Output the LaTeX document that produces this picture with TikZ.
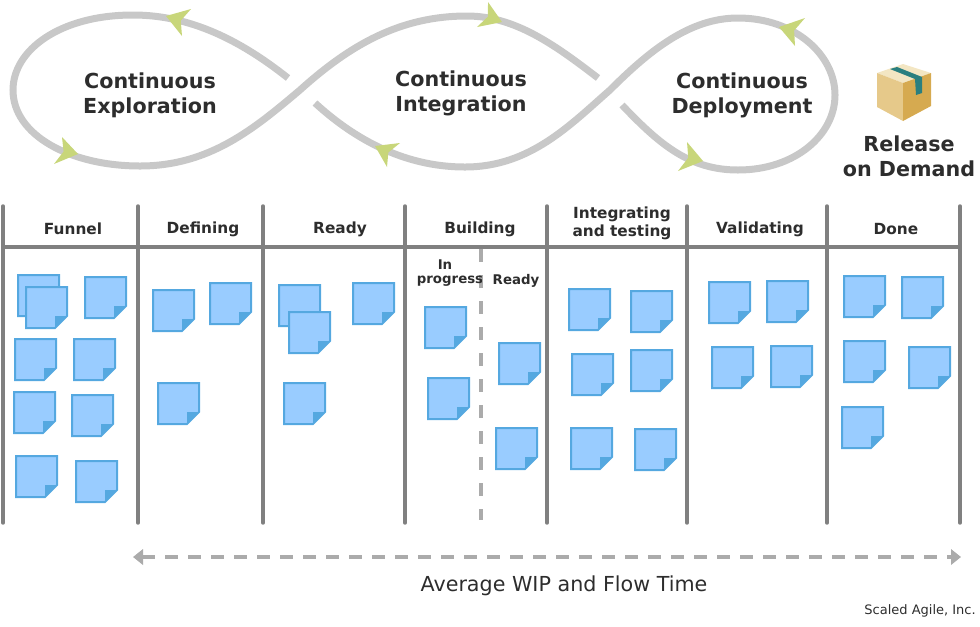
\documentclass[tikz,border=0pt]{standalone}
\usepackage{fontspec}
\setmainfont{DejaVu Sans}
\usetikzlibrary{arrows.meta,calc}

\definecolor{inktext}{HTML}{2D2D2D}
\definecolor{loopgray}{HTML}{C8C8C8}
\definecolor{tipgreen}{HTML}{C8D67A}
\definecolor{boardgray}{HTML}{808080}
\definecolor{dashgray}{HTML}{ABABAB}
\definecolor{notefill}{HTML}{99CCFF}
\definecolor{noteedge}{HTML}{55A8E0}
\definecolor{boxtop}{HTML}{F3E6C3}
\definecolor{boxleft}{HTML}{E6C98A}
\definecolor{boxright}{HTML}{D6AA50}
\definecolor{boxtape}{HTML}{2A7F7F}

\begin{document}
\begin{tikzpicture}[
    x=0.75pt, y=-0.75pt,
    >=Stealth,
    every node/.style={text=inktext, inner sep=0pt, align=center},
    looplabel/.style={font=\fontsize{15.5}{18.75}\selectfont\bfseries},
    colhead/.style={font=\fontsize{11.5}{13.5}\selectfont\bfseries},
    subhead/.style={font=\fontsize{10}{12.75}\selectfont\bfseries},
    loopline/.style={draw=loopgray, line width=5.25pt},
    divider/.style={draw=boardgray, line width=2.6pt, line cap=round},
    note/.pic={
      \draw[fill=notefill, draw=noteedge, line width=1.5pt, line join=miter]
        (1,1) -- (42,1) -- (42,30) -- (30,42) -- (1,42) -- cycle;
      \fill[noteedge] (30,42) -- (30,30) -- (42,30) -- cycle;
    },
]
  \useasboundingbox (0,0) rectangle (980,626);

  % figure-eight loops
  \draw[loopline] (288,78) .. controls (240,40) and (190,15) .. (133,15)
    .. controls (60,15) and (13,50) .. (13,90)
    .. controls (13,135) and (70,166) .. (140,166)
    .. controls (210,166) and (255,128) .. (300,90)
    .. controls (350,45) and (400,16) .. (467,16)
    .. controls (515,16) and (555,45) .. (598,78);
  \draw[loopline] (315,103) .. controls (350,135) and (400,167) .. (465,167)
    .. controls (530,167) and (570,125) .. (610,90)
    .. controls (650,50) and (690,18) .. (738,18)
    .. controls (795,18) and (835,55) .. (835,95)
    .. controls (835,135) and (795,170) .. (738,170)
    .. controls (690,170) and (660,145) .. (622,105);

  % green tips: point / barb / barb
  \foreach \tx/\ty/\ax/\ay/\bx/\by in {166/16/191/9/182/36, 78/154/62/137/54/164,
      375/146/400/143/387/167, 502/22/488/2/477/27,
      779/27/805/18/795/46, 703/161/687/142/678/171}
    \fill[tipgreen] (\tx,\ty) -- (\ax,\ay)
      -- ($(\tx,\ty)!0.72!($(\ax,\ay)!0.5!(\bx,\by)$)$) -- (\bx,\by) -- cycle;

  \node[looplabel] (explore) at (150,95) {Continuous\\Exploration};
  \node[looplabel] (integrate) at (461,93) {Continuous\\Integration};
  \node[looplabel] (deploy) at (742,95) {Continuous\\Deployment};
  \node[looplabel] (release) at (909,156) {Release\\on Demand};

  % parcel
  \fill[boxtop] (877,73) -- (903,64) -- (931,73) -- (903,83) -- cycle;
  \fill[boxleft] (877,73) -- (903,83) -- (903,121) -- (877,107) -- cycle;
  \fill[boxright] (903,83) -- (931,73) -- (931,106) -- (903,121) -- cycle;
  \fill[boxtape] (890,69) -- (897,67) -- (922,77) -- (922,93) -- (916,95) -- (915,79) -- cycle;

  % board
  \foreach \x in {3,138,263,405,547,687,827,960}
    \draw[divider] (\x,206) -- (\x,523);
  \draw[draw=boardgray, line width=2.6pt] (3,247) -- (960,247);
  \draw[draw=dashgray, line width=2.4pt, dash pattern=on 9.75pt off 9.75pt] (481,249) -- (481,520);

  \node[colhead] (funnel) at (73,229) {Funnel};
  \node[colhead] (defining) at (203,229) {Defining};
  \node[colhead] (ready) at (340,229) {Ready};
  \node[colhead] (building) at (480,229) {Building};
  \node[colhead] (integrating) at (622,223) {Integrating\\and testing};
  \node[colhead] (validating) at (760,229) {Validating};
  \node[colhead] (done) at (896,229) {Done};

  \node[subhead] (inlabel) at (445,265) {In};
  \begin{scope}
    \clip (410,270) rectangle (481,292);
    \node[subhead] (progress) at (450,281) {progress};
  \end{scope}
  \node[subhead] (readysub) at (516,281) {Ready};

  % sticky notes, later ones on top
  \foreach \x/\y in {17/274, 25/286, 84/276, 14/338, 73/338, 13/391, 71/394, 15/455, 75/460,
      152/289, 209/282, 157/382,
      278/284, 288/311, 352/282, 283/382,
      424/306, 427/377, 498/342, 495/427,
      568/288, 630/290, 571/353, 630/349, 570/427, 634/428,
      708/281, 766/280, 711/346, 770/345,
      843/275, 901/276, 843/340, 908/346, 841/406}
    \pic at (\x,\y) {note};

  % WIP span
  \coordinate (wipL) at (133,557);
  \coordinate (wipR) at (961,557);
  \draw[{Triangle[width=11.5pt,length=7.5pt]}-{Triangle[width=11.5pt,length=7.5pt]}, draw=dashgray, line width=2.5pt, dash pattern=on 9.75pt off 7.5pt] (wipL) -- (wipR);
  \node[font=\fontsize{15.5}{18}\selectfont] (wiplabel) at (564,586) {Average WIP and Flow Time};
  \node[font=\fontsize{9.75}{12}\selectfont, anchor=east] (credit) at (976,611) {Scaled Agile, Inc.};
\end{tikzpicture}
\end{document}
